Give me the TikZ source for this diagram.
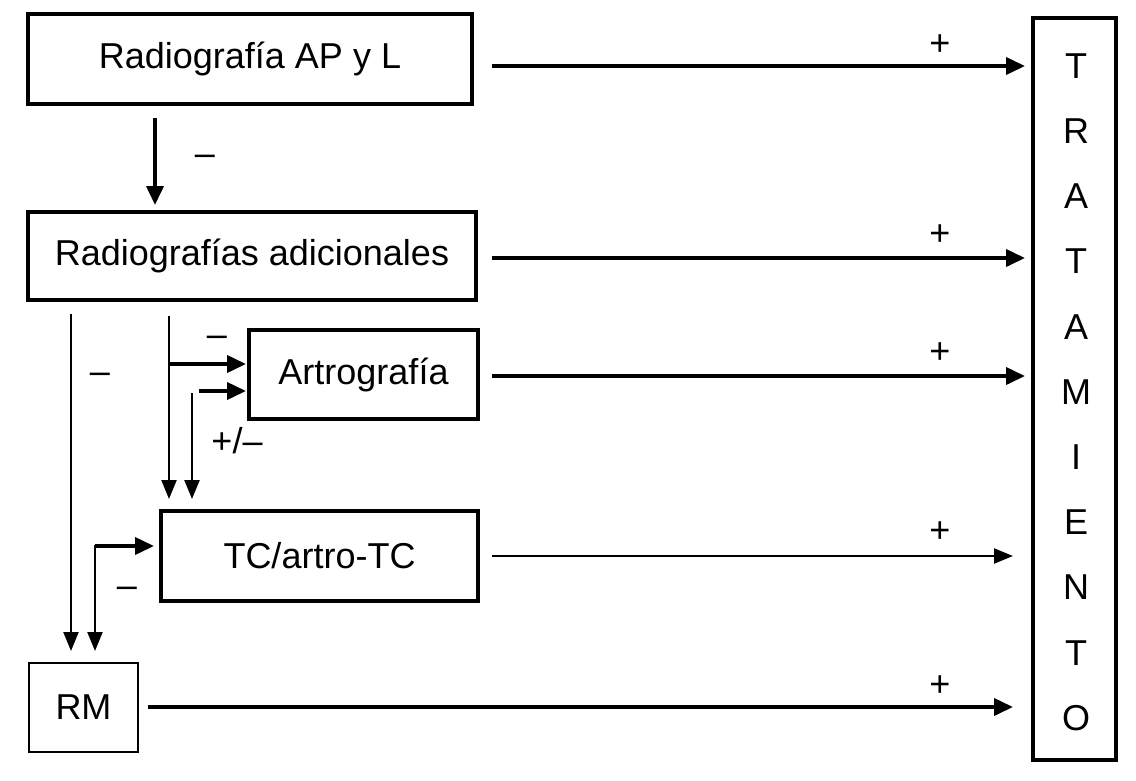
\documentclass[tikz,border=0pt]{standalone}
\usepackage{fontspec}
\setmainfont{Liberation Sans}
\usetikzlibrary{arrows.meta}
\begin{document}
\begin{tikzpicture}[x=1pt,y=-1pt,
  box/.style={draw,line width=3.5pt,inner sep=0pt},
  thinbox/.style={draw,line width=2.5pt,inner sep=0pt},
  lbl/.style={font=\fontsize{36}{38}\selectfont},
  sgn/.style={font=\fontsize{36}{38}\selectfont,inner sep=0pt},
  thk/.style={line width=3.8pt,-{Triangle[length=19pt,width=17pt]}},
  thn/.style={line width=2.2pt,-{Triangle[length=19pt,width=15pt]}}]
\useasboundingbox (0,0) rectangle (1136,780);
% boxes
\node[box,minimum width=444pt,minimum height=90pt] (b1) at (250,59) {};
\node[lbl] at (b1.center) {Radiografía AP y L};
\node[box,minimum width=448pt,minimum height=88pt] (b2) at (252,256) {};
\node[lbl] at (b2.center) {Radiografías adicionales};
\node[box,minimum width=229pt,minimum height=89pt] (b3) at (363.5,374.5) {};
\node[lbl] at (b3.center) {Artrografía};
\node[box,minimum width=317pt,minimum height=90pt] (b4) at (319.5,556) {};
\node[lbl] at (b4.center) {TC/artro-TC};
\node[thinbox,minimum width=109pt,minimum height=89pt] (b5) at (83.5,707.5) {};
\node[lbl] at (b5.center) {RM};
\node[box,minimum width=83pt,minimum height=742pt] (tr) at (1074.5,389) {};
\foreach \c [count=\i] in {T,R,A,T,A,M,I,E,N,T,O}
  \node[lbl] at (1076,{66+65.2*(\i-1)}) {\c};
% right arrows
\coordinate (e1) at (1025,66);
\coordinate (e2) at (1025,258);
\coordinate (e3) at (1025,376);
\coordinate (e4) at (1013,556);
\coordinate (e5) at (1013,707);
\draw[thk] (492,66) -- (e1);
\draw[thk] (492,258) -- (e2);
\draw[thk] (492,376) -- (e3);
\draw[thn] (492,556) -- (e4);
\draw[thk] (148,707) -- (e5);
\node[sgn] at (940,45) {+};
\node[sgn] at (940,235) {+};
\node[sgn] at (940,353) {+};
\node[sgn] at (940,532) {+};
\node[sgn] at (940,686) {+};
% vertical
\draw[thk] (155,118) -- (155,205);
\node[sgn] at (205,160) {–};
% left branches
\draw[thn] (71,314) -- (71,651);
\node[sgn] at (100,378) {–};
\draw[thn] (169,316) -- (169,499);
\draw[thk] (169,364) -- (246,364);
\node[sgn] at (217,341) {–};
\draw[thn] (192,393) -- (192,499);
\draw[thk] (199,391) -- (246,391);
\node[sgn] at (237,441) {+/–};
\draw[thn] (95,545) -- (95,651);
\draw[thk] (95,546) -- (154,546);
\node[sgn] at (127,592) {–};
\end{tikzpicture}
\end{document}
